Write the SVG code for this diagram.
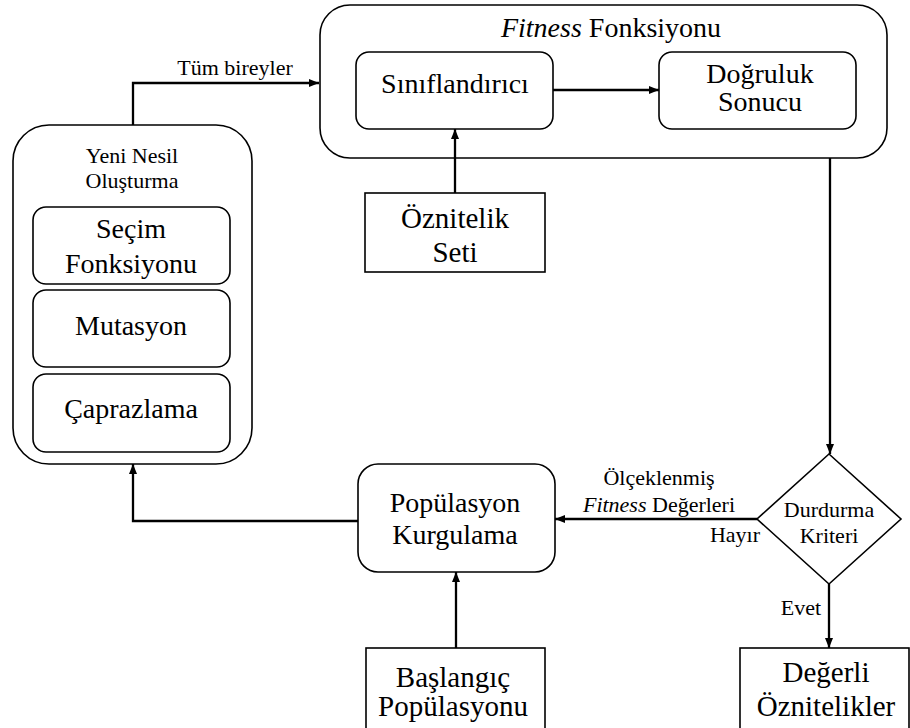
<svg xmlns="http://www.w3.org/2000/svg" width="910" height="728" viewBox="0 0 910 728">
<defs>
<marker id="ah" viewBox="0 0 10 10" refX="10" refY="5" markerWidth="10" markerHeight="10" markerUnits="userSpaceOnUse" orient="auto">
<path d="M0,1 L10,5 L0,9 Z" fill="#000"/>
</marker>
</defs>
<rect width="910" height="728" fill="#fff"/>

<g id="fitness">
<rect x="320" y="5" width="567" height="153" rx="30" fill="#fff" stroke="#000" stroke-width="1.6"/>
<text x="611" y="37" font-size="28" font-family="Liberation Serif" text-anchor="middle"><tspan font-style="italic">Fitness</tspan> Fonksiyonu</text>
</g>
<g id="siniflandirici">
<rect x="356" y="52" width="197" height="77" rx="13" fill="#fff" stroke="#000" stroke-width="1.6"/>
<text x="455" y="93" font-size="28" font-family="Liberation Serif" text-anchor="middle">Sınıflandırıcı</text>
</g>
<g id="dogruluk">
<rect x="659" y="52" width="197" height="77" rx="13" fill="#fff" stroke="#000" stroke-width="1.6"/>
<text x="760" y="83" font-size="28" font-family="Liberation Serif" text-anchor="middle">Doğruluk</text>
<text x="760" y="111" font-size="28" font-family="Liberation Serif" text-anchor="middle">Sonucu</text>
</g>
<g id="oznitelik-seti">
<rect x="365" y="193" width="180" height="79" fill="#fff" stroke="#000" stroke-width="1.6"/>
<text x="455" y="228" font-size="29" font-family="Liberation Serif" text-anchor="middle">Öznitelik</text>
<text x="455" y="262" font-size="29" font-family="Liberation Serif" text-anchor="middle">Seti</text>
</g>
<g id="yeni-nesil">
<rect x="13" y="125" width="239" height="339" rx="36" fill="#fff" stroke="#000" stroke-width="1.6"/>
<text x="132" y="163" font-size="22" font-family="Liberation Serif" text-anchor="middle">Yeni Nesil</text>
<text x="132" y="188" font-size="22" font-family="Liberation Serif" text-anchor="middle">Oluşturma</text>
</g>
<g id="secim">
<rect x="33" y="207" width="197" height="77" rx="13" fill="#fff" stroke="#000" stroke-width="1.6"/>
<text x="131" y="238" font-size="28" font-family="Liberation Serif" text-anchor="middle">Seçim</text>
<text x="131" y="273" font-size="28" font-family="Liberation Serif" text-anchor="middle">Fonksiyonu</text>
</g>
<g id="mutasyon">
<rect x="33" y="290" width="197" height="77" rx="13" fill="#fff" stroke="#000" stroke-width="1.6"/>
<text x="131" y="335" font-size="28" font-family="Liberation Serif" text-anchor="middle">Mutasyon</text>
</g>
<g id="caprazlama">
<rect x="33" y="374" width="197" height="78" rx="13" fill="#fff" stroke="#000" stroke-width="1.6"/>
<text x="131" y="418" font-size="28" font-family="Liberation Serif" text-anchor="middle">Çaprazlama</text>
</g>
<g id="populasyon-kurgulama">
<rect x="358" y="464" width="197" height="108" rx="20" fill="#fff" stroke="#000" stroke-width="1.6"/>
<text x="455" y="512" font-size="28" font-family="Liberation Serif" text-anchor="middle">Popülasyon</text>
<text x="455" y="544" font-size="28" font-family="Liberation Serif" text-anchor="middle">Kurgulama</text>
</g>
<g id="baslangic">
<rect x="366" y="648" width="179" height="90" fill="#fff" stroke="#000" stroke-width="1.6"/>
<text x="453" y="687" font-size="29" font-family="Liberation Serif" text-anchor="middle">Başlangıç</text>
<text x="453" y="716" font-size="29" font-family="Liberation Serif" text-anchor="middle">Popülasyonu</text>
</g>
<g id="durdurma">
<polygon points="829,454 901,519 829,584 757,519" fill="#fff" stroke="#000" stroke-width="1.6"/>
<text x="829" y="517" font-size="22" font-family="Liberation Serif" text-anchor="middle">Durdurma</text>
<text x="829" y="543" font-size="22" font-family="Liberation Serif" text-anchor="middle">Kriteri</text>
</g>
<g id="degerli">
<rect x="740" y="648" width="169" height="90" fill="#fff" stroke="#000" stroke-width="1.6"/>
<text x="826" y="682" font-size="29" font-family="Liberation Serif" text-anchor="middle">Değerli</text>
<text x="826" y="716" font-size="29" font-family="Liberation Serif" text-anchor="middle">Öznitelikler</text>
</g>

<g id="connectors" fill="none" stroke="#000" stroke-width="2.3">
<path d="M133,125 V83 H319" marker-end="url(#ah)"/>
<path d="M553,90 H659" marker-end="url(#ah)"/>
<path d="M455,193 V129" marker-end="url(#ah)"/>
<path d="M830,158 V454" marker-end="url(#ah)"/>
<path d="M757,519 H555" marker-end="url(#ah)"/>
<path d="M358,521 H133 V464" marker-end="url(#ah)"/>
<path d="M456,648 V572" marker-end="url(#ah)"/>
<path d="M829,584 V648" marker-end="url(#ah)"/>
</g>
<g id="connector-labels">
<text x="235" y="75" font-size="22" font-family="Liberation Serif" text-anchor="middle">Tüm bireyler</text>
<text x="659" y="485" font-size="22" font-family="Liberation Serif" text-anchor="middle">Ölçeklenmiş</text>
<text x="659" y="512" font-size="22" font-family="Liberation Serif" text-anchor="middle"><tspan font-style="italic">Fitness</tspan> Değerleri</text>
<text x="760" y="542" font-size="22" font-family="Liberation Serif" text-anchor="end">Hayır</text>
<text x="801" y="615" font-size="22" font-family="Liberation Serif" text-anchor="middle">Evet</text>
</g>
</svg>
